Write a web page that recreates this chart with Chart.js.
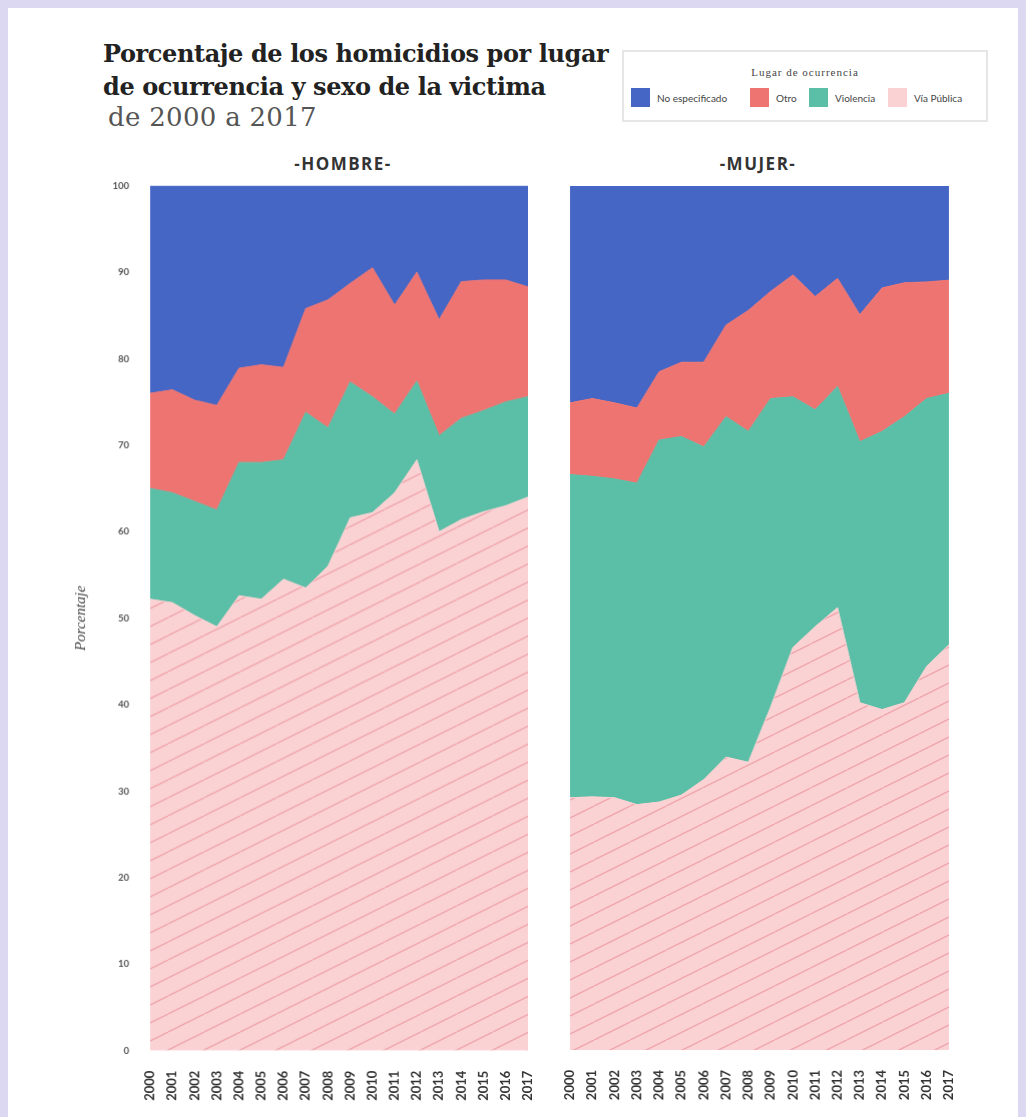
<!DOCTYPE html>
<html>
<head>
<meta charset="utf-8">
<title>Homicidios por lugar de ocurrencia</title>
<script src="https://cdn.jsdelivr.net/npm/chart.js@4.4.1/dist/chart.umd.min.js"></script>
<style>
    body { margin: 0; width: 1026px; height: 1117px; overflow: hidden; position: relative; background: #dcd8f2; font-family: Lato, "Open Sans", sans-serif; }
    #page { position: absolute; left: 8px; top: 8px; width: 1010px; height: 1109px; background: #fff; }
    .title { position: absolute; left: 103px; top: 37px; font: bold 24px "DejaVu Serif", serif; line-height: 33px; color: #222; letter-spacing: -0.4px; }
    .subtitle { position: absolute; left: 108px; top: 104px; font: 26px "DejaVu Serif", serif; line-height: 27px; color: #555; letter-spacing: 0.3px; }
    .legend { position: absolute; left: 622px; top: 50px; width: 366px; height: 72px; box-sizing: border-box; border: 2px solid #e6e6e6; }
    .legend h4 { margin: 0; position: absolute; top: 14px; left: 0; right: 0; text-align: center; font: normal 11px "Liberation Serif", serif; letter-spacing: 1px; color: #444; }
    .legend .item { position: absolute; top: 36px; display: flex; align-items: center; font: 10px Lato, sans-serif; color: #444; white-space: nowrap; }
    .legend .sw { width: 19px; height: 19px; display: inline-block; margin-right: 7px; }
    .panel-title { position: absolute; top: 152px; width: 200px; text-align: center; font: bold 17px "Open Sans", sans-serif; letter-spacing: 1.5px; color: #333; }
    .box { position: absolute; top: 176px; height: 934px; }
</style>
</head>
<body>
<div id="page"></div>

<div class="title">Porcentaje de los homicidios por lugar<br>de ocurrencia y sexo de la victima</div>
<div class="subtitle">de 2000 a 2017</div>

<div class="legend" id="legend">
    <h4>Lugar de ocurrencia</h4>
</div>

<div class="panel-title" style="left:243px">-HOMBRE-</div>
<div class="panel-title" style="left:658px">-MUJER-</div>

<div class="box" id="box-hombre" style="left:60px; width:472px"><canvas id="hombre"></canvas></div>
<div class="box" id="box-mujer" style="left:560px; width:392px"><canvas id="mujer"></canvas></div>

<script>

    const years = ["2000", "2001", "2002", "2003", "2004", "2005", "2006", "2007", "2008",
        "2009", "2010", "2011", "2012", "2013", "2014", "2015", "2016", "2017"]

    const lugares = ["Vía Pública", "Violencia", "Otro", "No especificado"]
    const legendOrder = ["No especificado", "Otro", "Violencia", "Vía Pública"]

    // porcentajes, hombres
    const hombreViaPublica = [52.2, 51.8, 50.3, 49.0, 52.6, 52.2, 54.5, 53.5, 56.0, 61.6, 62.2, 64.5, 68.3, 60.0, 61.4, 62.3, 63.0, 64.0]
    const hombreViolencia = [12.8, 12.7, 13.2, 13.5, 15.4, 15.8, 13.8, 20.3, 16.0, 15.7, 13.4, 9.1, 9.1, 11.1, 11.7, 11.7, 12.0, 11.6]
    const hombreOtro = [11.0, 11.9, 11.7, 12.1, 10.9, 11.3, 10.7, 12.0, 14.8, 11.4, 14.9, 12.6, 12.6, 13.4, 15.8, 15.1, 14.1, 12.7]
    const hombreNoEsp = [24.0, 23.6, 24.8, 25.4, 21.1, 20.7, 21.0, 14.2, 13.2, 11.3, 9.5, 13.8, 10.0, 15.5, 11.1, 10.9, 10.9, 11.7]

    // porcentajes, mujeres
    const mujerViaPublica = [29.2, 29.3, 29.2, 28.4, 28.7, 29.5, 31.3, 33.9, 33.3, 39.7, 46.6, 49.0, 51.2, 40.2, 39.4, 40.2, 44.4, 46.9]
    const mujerViolencia = [37.4, 37.1, 36.9, 37.2, 41.9, 41.5, 38.5, 39.4, 38.3, 35.7, 29.0, 25.1, 25.6, 30.2, 32.2, 33.1, 31.0, 29.1]
    const mujerOtro = [8.3, 9.0, 8.8, 8.7, 7.9, 8.6, 9.8, 10.6, 14.0, 12.4, 14.1, 13.1, 12.5, 14.7, 16.6, 15.5, 13.5, 13.1]
    const mujerNoEsp = [25.1, 24.6, 25.1, 25.7, 21.5, 20.4, 20.4, 16.1, 14.4, 12.2, 10.3, 12.8, 10.7, 14.9, 11.8, 11.2, 11.1, 10.9]

    const yTicks = [0, 10, 20, 30, 40, 50, 60, 70, 80, 90, 100]

    const colors = {
        "Vía Pública": "#fbd2d4",
        "Violencia": "#5bbea6",
        "Otro": "#ee7472",
        "No especificado": "#4566c4",
    }

    // rayas diagonales para via publica
    function stripes() {
        const c = document.createElement("canvas")
        c.width = 36
        c.height = 18
        const g = c.getContext("2d")
        g.fillStyle = colors["Vía Pública"]
        g.fillRect(0, 0, 36, 18)
        g.strokeStyle = "#eea3aa"
        g.lineWidth = 1.3
        for (let dx of [-36, 0, 36]) {
            g.beginPath()
            g.moveTo(dx, 18)
            g.lineTo(dx + 36, 0)
            g.stroke()
        }
        return g.createPattern(c, "repeat")
    }
    const pattern = stripes()

    // leyenda
    const legendLeft = [7, 126, 185, 264]
    const legend = document.getElementById("legend")
    legendOrder.forEach((name, i) => {
        legend.innerHTML += `<div class="item" style="left:${legendLeft[i]}px"><span class="sw" style="background:${colors[name]}"></span>${name}</div>`
    })

    function datasets(series) {
        return lugares.map((name, i) => ({
            label: name,
            data: series[i],
            backgroundColor: i === 0 ? pattern : colors[name],
            borderColor: colors[name],
            borderWidth: 1,
            pointRadius: 0,
            tension: 0,
            fill: i === 0 ? "origin" : "-1",
        }))
    }

    function makeChart(id, series, showY) {
        return new Chart(document.getElementById(id), {
            type: "line",
            data: { labels: years, datasets: datasets(series) },
            options: {
                responsive: true,
                maintainAspectRatio: false,
                animation: false,
                layout: { padding: { left: 12, top: 10, right: 5, bottom: 0 } },
                plugins: { legend: { display: false }, tooltip: { enabled: false } },
                scales: {
                    x: {
                        grid: { display: false },
                        border: { display: false },
                        ticks: {
                            autoSkip: false, minRotation: 90, maxRotation: 90, padding: 12,
                            color: "#333", font: { size: 13, weight: "bold", family: "Lato" }
                        },
                        afterFit: s => { s.height = 60 }
                    },
                    y: {
                        display: showY,
                        stacked: true,
                        min: 0,
                        max: 100,
                        grid: { display: false },
                        border: { display: false },
                        afterBuildTicks: s => { s.ticks = yTicks.map(v => ({ value: v })) },
                        ticks: { padding: 13, color: "#555", font: { size: 9.5, weight: "bold", family: "Lato" } },
                        title: {
                            display: true, text: "Porcentaje", padding: 0, color: "#444",
                            font: { size: 15, style: "italic", family: "Liberation Serif" }
                        },
                        afterFit: s => { if (showY) s.width = 78 }
                    }
                }
            }
        })
    }

    // mueve la caja para que el area del grafico quede donde va
    function place(chart, boxId, target) {
        const box = document.getElementById(boxId)
        for (let k = 0; k < 3; k++) {
            const a = chart.chartArea
            const W = box.offsetWidth, H = box.offsetHeight
            const newL = target.left - a.left
            const newT = target.top - a.top
            const newW = target.right - newL + (W - a.right)
            const newH = target.bottom - newT + (H - a.bottom)
            box.style.left = newL + "px"
            box.style.top = newT + "px"
            box.style.width = newW + "px"
            box.style.height = newH + "px"
            chart.resize()
        }
    }

    const hombre = makeChart("hombre", [hombreViaPublica, hombreViolencia, hombreOtro, hombreNoEsp], true)
    const mujer = makeChart("mujer", [mujerViaPublica, mujerViolencia, mujerOtro, mujerNoEsp], false)

    place(hombre, "box-hombre", { left: 150, top: 186, right: 527, bottom: 1050 })
    place(mujer, "box-mujer", { left: 570, top: 186, right: 948, bottom: 1050 })

</script>
</body>
</html>
